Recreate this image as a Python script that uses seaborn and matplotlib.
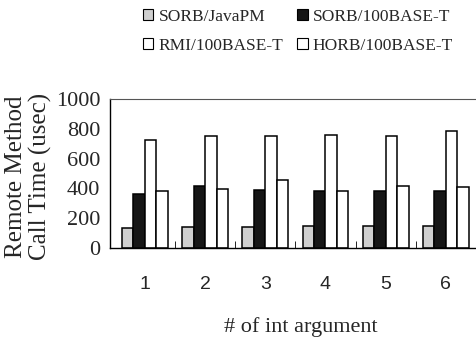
import matplotlib
matplotlib.use("Agg")
import matplotlib.pyplot as plt
import seaborn as sns
import pandas as pd
from matplotlib.patches import Patch

categories = ["1", "2", "3", "4", "5", "6"]
series = ["SORB/JavaPM", "SORB/100BASE-T", "RMI/100BASE-T", "HORB/100BASE-T"]
sorb_javapm = [137, 144, 141, 148, 147, 150]
sorb_100 = [361, 415, 390, 380, 380, 383]
rmi_100 = [722, 753, 753, 760, 755, 785]
horb_100 = [386, 395, 459, 383, 415, 410]

rows = []
for name, vals in zip(series, [sorb_javapm, sorb_100, rmi_100, horb_100]):
    for c, v in zip(categories, vals):
        rows.append({"arg": c, "series": name, "time": v})
df = pd.DataFrame(rows)

sns.set_theme(style="white")
plt.rcParams["font.family"] = ["Liberation Serif", "DejaVu Serif"]

fills = {"SORB/JavaPM": "#cfcfcf", "SORB/100BASE-T": "#161616",
         "RMI/100BASE-T": "#ffffff", "HORB/100BASE-T": "#ffffff"}

fig = plt.figure(figsize=(4.76, 3.38), dpi=100)
ax = fig.add_axes([0.231, 0.266, 0.769, 0.441])
sns.barplot(data=df, x="arg", y="time", hue="series", hue_order=series,
            order=categories, palette=fills, width=0.76, ax=ax,
            edgecolor="black", linewidth=1.1, saturation=1, legend=False)

for cont, name in zip(ax.containers, series):
    for p in cont:
        p.set_facecolor(fills[name])
        p.set_edgecolor("black")
        p.set_linewidth(1.1)

ax.set_xlim(-0.58, 5.5)
ax.set_ylim(0, 1000)
ax.set_yticks([0, 200, 400, 600, 800, 1000])
ax.set_yticklabels(["0", "200", "400", "600", "800", "1000"], fontsize=16)
ax.tick_params(axis="y", length=0, pad=7)
ax.tick_params(axis="x", which="major", length=0, pad=20)
for lab in ax.get_xticklabels():
    lab.set_fontfamily("Liberation Sans")
    lab.set_fontsize(14)
ax.set_xticks([0.5, 1.5, 2.5, 3.5, 4.5], minor=True)
ax.tick_params(axis="x", which="minor", direction="in", length=5, width=0.6,
               bottom=True, color="black")

ax.spines["left"].set_color("black")
ax.spines["left"].set_linewidth(1.0)
ax.spines["bottom"].set_color("black")
ax.spines["bottom"].set_linewidth(1.0)
ax.spines["top"].set_color("#555555")
ax.spines["top"].set_linestyle((0, (1, 1)))
ax.spines["top"].set_linewidth(0.8)
ax.spines["right"].set_visible(False)

ax.set_ylabel("Remote Method\nCall Time (usec)", fontsize=18,
              linespacing=1.1)
ax.yaxis.set_label_coords(-0.158, 0.48)
ax.set_xlabel("# of int argument", fontsize=16)
ax.xaxis.set_label_coords(0.522, -0.46)

handles = [Patch(facecolor=fills[s], edgecolor="black", linewidth=0.8, label=s)
           for s in [series[0], series[2], series[1], series[3]]]
fig.legend(handles=handles, ncol=2, loc="upper left",
           bbox_to_anchor=(0.275, 1.01), frameon=False, fontsize=12.5,
           handlelength=0.6, handleheight=0.6, handletextpad=0.3,
           labelspacing=0.75, columnspacing=0.8, borderpad=0.2)

fig.savefig("out.png", dpi=100)
